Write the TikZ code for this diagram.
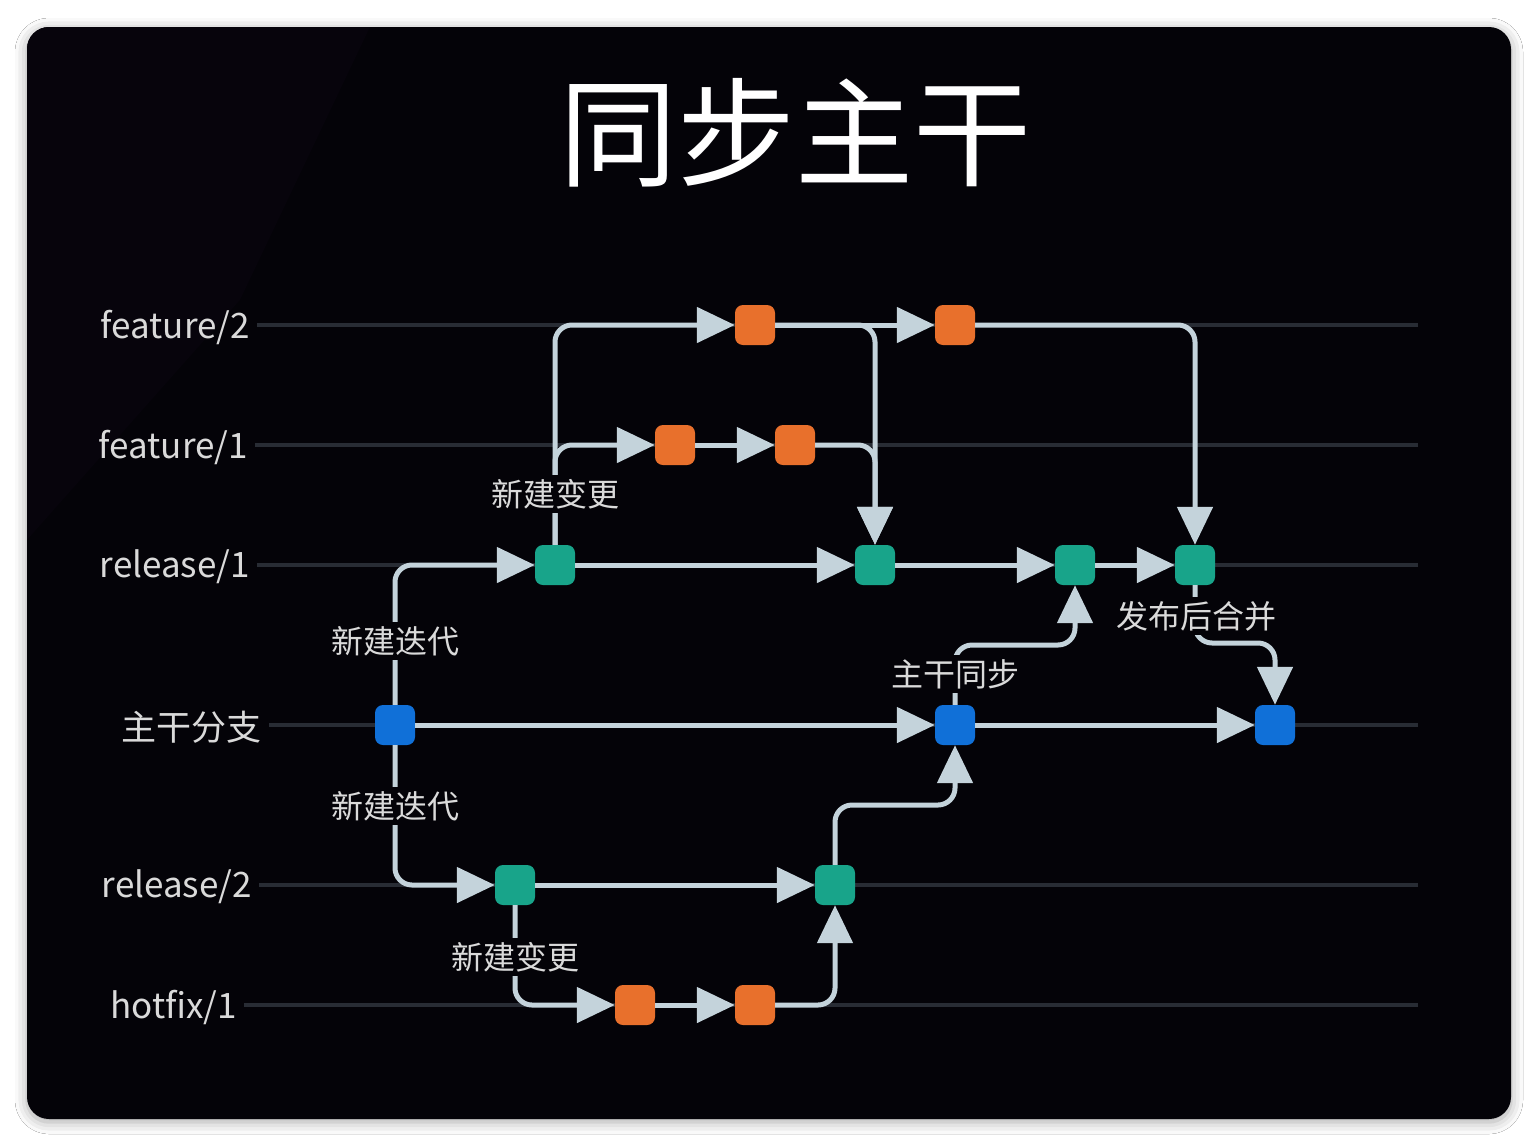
\documentclass[tikz,border=0pt]{standalone}
\usepackage{fontspec}
\setmainfont{Noto Sans CJK SC}
\usetikzlibrary{arrows.meta,shadows.blur}
\definecolor{gitbg}{RGB}{4,3,8}
\definecolor{gitglow}{RGB}{7,4,12}
\definecolor{gitlane}{RGB}{40,44,52}
\definecolor{gitflow}{RGB}{196,211,219}
\definecolor{gitorange}{RGB}{232,112,44}
\definecolor{gitteal}{RGB}{24,164,138}
\definecolor{gitblue}{RGB}{16,112,216}
\definecolor{gittext}{RGB}{218,218,218}

\begin{document}
\begin{tikzpicture}[x=1pt,y=-1pt,
    commit/.style={rectangle,rounded corners=8pt,minimum size=40pt,inner sep=0pt},
    feat/.style={commit,fill=gitorange},
    rel/.style={commit,fill=gitteal},
    trunk/.style={commit,fill=gitblue},
    flow/.style={draw=gitflow,line width=5pt,rounded corners=17pt,
        -{Triangle[length=38pt,width=35pt]}},
    lane/.style={draw=gitlane,line width=4pt},
    lanelabel/.style={anchor=east,inner sep=0pt,text=gittext,
        font=\fontsize{35}{40}\selectfont},
    tag/.style={fill=gitbg,text=gittext,inner sep=4pt,
        font=\fontsize{32}{36}\selectfont}]

    % card
    \fill[white] (0,0) rectangle (1538,1146);
    \fill[gitbg,rounded corners=22pt,blur shadow={shadow xshift=0pt,
        shadow yshift=-3pt,shadow blur radius=12pt,shadow opacity=35}]
        (27,27) rectangle (1511,1119);
    \begin{scope}
        \clip[rounded corners=22pt] (27,27) rectangle (1511,1119);
        \fill[gitglow] (27,27) -- (370,27) -- (240,300) -- (27,540) -- cycle;
    \end{scope}

    \node[text=white,font=\fontsize{118}{122}\selectfont] (title) at (795,133) {同步主干};

    % lanes
    \node[lanelabel] (labf2) at (250,327) {feature/2};
    \node[lanelabel] (labf1) at (248,447) {feature/1};
    \node[lanelabel] (labr1) at (250,567) {release/1};
    \node[lanelabel] (labmn) at (262,727) {主干分支};
    \node[lanelabel] (labr2) at (252,887) {release/2};
    \node[lanelabel] (labhf) at (237,1007) {hotfix/1};
    \foreach \ln in {f2,f1,r1,r2,hf}{
        \draw[lane] ([xshift=7pt,yshift=2pt]lab\ln.east) -- ([yshift=2pt]lab\ln.east -| 1418,0);
    }
    \draw[lane] ([xshift=7pt,yshift=2pt]labmn.east) -- ([yshift=2pt]labmn.east -| 1418,0);

    % commits
    \node[feat] (f2a) at (755,325) {};
    \node[feat] (f2b) at (955,325) {};
    \node[feat] (f1a) at (675,445) {};
    \node[feat] (f1b) at (795,445) {};
    \node[rel] (r1a) at (555,565) {};
    \node[rel] (r1b) at (875,565) {};
    \node[rel] (r1c) at (1075,565) {};
    \node[rel] (r1d) at (1195,565) {};
    \node[trunk] (m0) at (395,725) {};
    \node[trunk] (m1) at (955,725) {};
    \node[trunk] (m2) at (1275,725) {};
    \node[rel] (r2a) at (515,885) {};
    \node[rel] (r2b) at (835,885) {};
    \node[feat] (h1a) at (635,1005) {};
    \node[feat] (h1b) at (755,1005) {};
    \coordinate (syncturn) at (1075,645);
    \coordinate (mergeturn) at (1275,643);
    \coordinate (hotturn) at (955,805);

    % flows
    \draw[flow] (m0) |- (r1a);
    \draw[flow] (m0) |- (r2a);
    \draw[flow] (m0) -- (m1);
    \draw[flow] (m1) -- (m2);
    \draw[flow] (r1a) |- (f2a);
    \draw[flow] (r1a) |- (f1a);
    \draw[flow] (f1a) -- (f1b);
    \draw[flow] (f2a) -- (f2b);
    \draw[flow] (f2a) -| (r1b);
    \draw[flow] (f1b) -| (r1b);
    \draw[flow] (f2b) -| (r1d);
    \draw[flow] (r1a) -- (r1b);
    \draw[flow] (r1b) -- (r1c);
    \draw[flow] (r1c) -- (r1d);
    \draw[flow] (m1) |- (syncturn) -- (r1c);
    \draw[flow] (r1d) |- (mergeturn) -- (m2);
    \draw[flow] (r2a) -- (r2b);
    \draw[flow] (r2a) |- (h1a);
    \draw[flow] (h1a) -- (h1b);
    \draw[flow] (h1b) -| (r2b);
    \draw[flow] (r2b) |- (hotturn) -- (m1);

    % tags
    \node[tag] (iterup) at (395,641) {新建迭代};
    \node[tag] (iterdown) at (395,806) {新建迭代};
    \node[tag] (changeup) at (555,494) {新建变更};
    \node[tag] (changedown) at (515,957) {新建变更};
    \node[tag] (sync) at (955,674) {主干同步};
    \node[tag] (merge) at (1196,616) {发布后合并};
\end{tikzpicture}
\end{document}
